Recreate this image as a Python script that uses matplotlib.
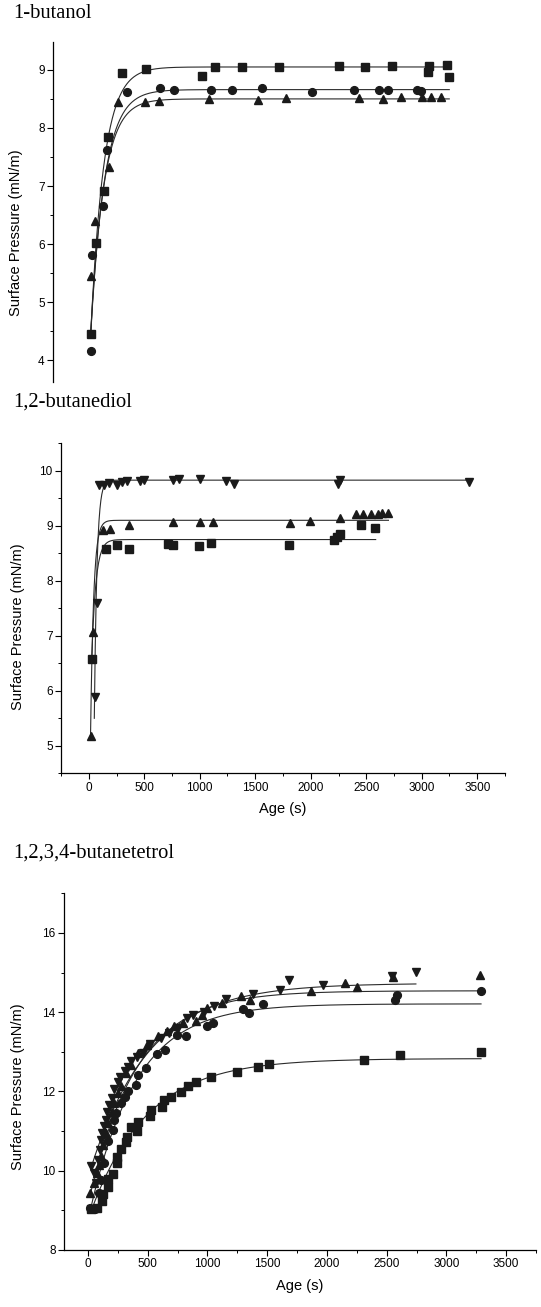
import numpy as np
import matplotlib
matplotlib.use('Agg')
import matplotlib.pyplot as plt
from matplotlib.ticker import MultipleLocator

plt.rcParams['font.family'] = ['Liberation Sans', 'DejaVu Sans']

W, H = 541, 1307

# ── 1-butanol ──
b1_sq_t = [90, 137, 207, 248, 369, 585, 1090, 1205, 1455, 1790, 2330, 2560, 2805, 3135, 3130, 3300, 3320]
b1_sq_p = [4.45, 6.02, 6.92, 7.85, 8.95, 9.02, 8.90, 9.05, 9.05, 9.05, 9.06, 9.05, 9.07, 9.06, 8.96, 9.08, 8.88]
b1_ci_t = [90, 104, 203, 239, 414, 717, 843, 1171, 1365, 1636, 2086, 2462, 2690, 2771, 3032, 3063]
b1_ci_p = [4.16, 5.82, 6.65, 7.62, 8.62, 8.68, 8.65, 8.66, 8.66, 8.68, 8.62, 8.66, 8.65, 8.65, 8.65, 8.63]
b1_tr_t = [92, 128, 254, 335, 576, 702, 1158, 1594, 1849, 2509, 2720, 2885, 3074, 3155, 3248]
b1_tr_p = [5.45, 6.40, 7.33, 8.45, 8.45, 8.47, 8.50, 8.48, 8.52, 8.52, 8.49, 8.53, 8.53, 8.54, 8.54]
# fit: (t start, t end, start value, plateau, tau)
b1_fits = [(90, 3320, 4.45, 9.05, 118), (90, 3320, 4.45, 8.66, 125), (90, 3320, 4.5, 8.50, 120)]

# ── 1,2-butanediol ──
b2_sq_t = [25, 156, 252, 361, 716, 762, 989, 1105, 1801, 2212, 2240, 2265, 2455, 2582]
b2_sq_p = [6.57, 8.57, 8.66, 8.57, 8.67, 8.66, 8.64, 8.68, 8.65, 8.75, 8.79, 8.85, 9.01, 8.96]
b2_tr_t = [16, 34, 124, 190, 367, 762, 999, 1120, 1817, 1995, 2262, 2405, 2467, 2539, 2610, 2638, 2700]
b2_tr_p = [5.18, 7.07, 8.92, 8.95, 9.01, 9.07, 9.07, 9.07, 9.05, 9.08, 9.15, 9.21, 9.21, 9.21, 9.22, 9.24, 9.24]
b2_dn_t = [56, 75, 93, 134, 180, 255, 299, 345, 460, 501, 756, 812, 999, 1238, 1310, 2246, 2262, 3426]
b2_dn_p = [5.88, 7.60, 9.74, 9.75, 9.77, 9.74, 9.80, 9.82, 9.82, 9.83, 9.84, 9.85, 9.85, 9.81, 9.76, 9.76, 9.83, 9.80]
b2_fits = [(25, 2585, 6.5, 8.75, 38), (16, 2700, 5.18, 9.10, 28), (50, 3426, 5.5, 9.83, 24)]

# ── 1,2,3,4-butanetetrol ──
b4_sq_t = [29, 72, 120, 129, 166, 172, 209, 244, 244, 278, 318, 327, 364, 413, 422, 522, 528, 622, 637,
           694, 780, 838, 904, 1030, 1248, 1420, 1512, 2309, 2610, 3290]
b4_sq_p = [9.03, 9.05, 9.24, 9.41, 9.60, 9.79, 9.91, 10.19, 10.34, 10.55, 10.72, 10.86, 11.10, 10.99, 11.23,
           11.39, 11.52, 11.62, 11.79, 11.87, 11.98, 12.13, 12.24, 12.36, 12.49, 12.61, 12.70, 12.80, 12.93, 12.99]
b4_ci_t = [20, 57, 92, 106, 135, 166, 207, 221, 235, 278, 307, 336, 402, 416, 488, 579, 643, 746, 820,
           995, 1044, 1297, 1348, 1469, 2573, 2588, 3290]
b4_ci_p = [9.05, 9.03, 9.43, 9.77, 10.19, 10.74, 11.03, 11.28, 11.45, 11.71, 11.87, 12.00, 12.17, 12.42,
           12.59, 12.94, 13.05, 13.43, 13.41, 13.66, 13.74, 14.08, 13.98, 14.21, 14.32, 14.44, 14.53]
b4_tr_t = [20, 49, 72, 92, 112, 129, 149, 172, 198, 221, 250, 278, 321, 364, 422, 493, 588, 666, 723, 795,
           904, 952, 995, 1124, 1282, 1354, 1870, 2151, 2249, 2553, 3285]
b4_tr_p = [9.43, 9.68, 9.94, 10.15, 10.36, 10.65, 10.95, 11.20, 11.49, 11.71, 11.96, 12.13, 12.46, 12.67,
           12.97, 13.18, 13.39, 13.52, 13.64, 13.74, 13.77, 13.94, 14.11, 14.23, 14.42, 14.30, 14.53, 14.74,
           14.63, 14.89, 14.95]
b4_dn_t = [29, 49, 69, 86, 100, 109, 120, 135, 149, 164, 178, 201, 221, 250, 272, 307, 336, 364, 407, 465,
           522, 608, 680, 752, 832, 881, 975, 1053, 1153, 1383, 1606, 1683, 1965, 2545, 2745]
b4_dn_p = [10.11, 9.94, 9.68, 10.27, 10.53, 10.78, 10.95, 11.12, 11.28, 11.49, 11.66, 11.83, 12.06, 12.23,
           12.36, 12.51, 12.61, 12.76, 12.88, 12.97, 13.20, 13.35, 13.47, 13.60, 13.85, 13.94, 14.00, 14.15,
           14.33, 14.47, 14.57, 14.80, 14.69, 14.92, 15.01]
b4_fits = [(29, 3290, 9.0, 12.83, 470), (20, 3290, 9.0, 14.21, 388),
           (20, 3290, 9.4, 14.54, 400), (29, 2745, 10.1, 14.73, 487)]

MK = '#1a1a1a'
LN = '#2a2a2a'


def px_box(l, t, r, b):
    return [l / W, 1 - b / H, (r - l) / W, (b - t) / H]


def style(ax, xaxis=True):
    for s in ('top', 'right'):
        ax.spines[s].set_visible(False)
    ax.spines['left'].set_linewidth(0.9)
    ax.spines['bottom'].set_linewidth(0.9)
    ax.tick_params(which='major', direction='out', length=4, width=0.8, labelsize=8.5, pad=2)
    ax.tick_params(which='minor', direction='out', length=2.5, width=0.7)
    if not xaxis:
        ax.spines['bottom'].set_visible(False)
        ax.set_xticks([])
        ax.xaxis.set_minor_locator(plt.NullLocator())


def draw(ax, series, fits):
    for t, p, m, ms in series:
        ax.plot(t, p, m, color=MK, ms=ms, mec=MK, ls='none', zorder=3)
    for t0, t1, y0, plat, tau in fits:
        tt = np.linspace(t0, t1, 400)
        ax.plot(tt, plat - (plat - y0) * np.exp(-(tt - t0) / tau), color=LN, lw=0.8, zorder=2)


fig = plt.figure(figsize=(W / 100, H / 100), dpi=100)

# panel 1
ax1 = fig.add_axes(px_box(53, 42, 497, 381.7))
draw(ax1, [(b1_sq_t, b1_sq_p, 's', 5.2), (b1_ci_t, b1_ci_p, 'o', 5.6), (b1_tr_t, b1_tr_p, '^', 6)], b1_fits)
ax1.set_xlim(-250, 3750)
ax1.set_ylim(3.63, 9.48)
ax1.yaxis.set_major_locator(MultipleLocator(1))
ax1.yaxis.set_minor_locator(MultipleLocator(0.5))
style(ax1, xaxis=False)

# panel 2
ax2 = fig.add_axes(px_box(61, 443.3, 505, 773.3))
draw(ax2, [(b2_sq_t, b2_sq_p, 's', 5.2), (b2_tr_t, b2_tr_p, '^', 6), (b2_dn_t, b2_dn_p, 'v', 6)], b2_fits)
ax2.set_xlim(-250, 3750)
ax2.set_ylim(4.5, 10.5)
ax2.yaxis.set_major_locator(MultipleLocator(1))
ax2.yaxis.set_minor_locator(MultipleLocator(0.5))
ax2.xaxis.set_major_locator(MultipleLocator(500))
ax2.xaxis.set_minor_locator(MultipleLocator(250))
style(ax2)
ax2.set_xlabel('Age (s)', fontsize=10.5, labelpad=6)

# panel 3
ax3 = fig.add_axes(px_box(64, 893.3, 536, 1250))
draw(ax3, [(b4_sq_t, b4_sq_p, 's', 5.2), (b4_ci_t, b4_ci_p, 'o', 5.6),
           (b4_tr_t, b4_tr_p, '^', 6), (b4_dn_t, b4_dn_p, 'v', 6)], b4_fits)
ax3.set_xlim(-200, 3750)
ax3.set_ylim(8, 17)
ax3.yaxis.set_major_locator(MultipleLocator(2))
ax3.yaxis.set_minor_locator(MultipleLocator(1))
ax3.xaxis.set_major_locator(MultipleLocator(500))
ax3.xaxis.set_minor_locator(MultipleLocator(250))
style(ax3)
ax3.set_xlabel('Age (s)', fontsize=10.5, labelpad=6)

# y labels and panel titles
for x, y in [(16, 233), (18, 627), (18, 1087)]:
    fig.text(x / W, 1 - y / H, 'Surface Pressure (mN/m)', rotation=90,
             ha='center', va='center', fontsize=10.5)
for y, name in [(14, '1-butanol'), (402, '1,2-butanediol'), (853, '1,2,3,4-butanetetrol')]:
    fig.text(13 / W, 1 - y / H, name, ha='left', va='center', fontsize=14.8,
             family=['Liberation Serif', 'DejaVu Serif'])

fig.savefig('out.png', dpi=100)
